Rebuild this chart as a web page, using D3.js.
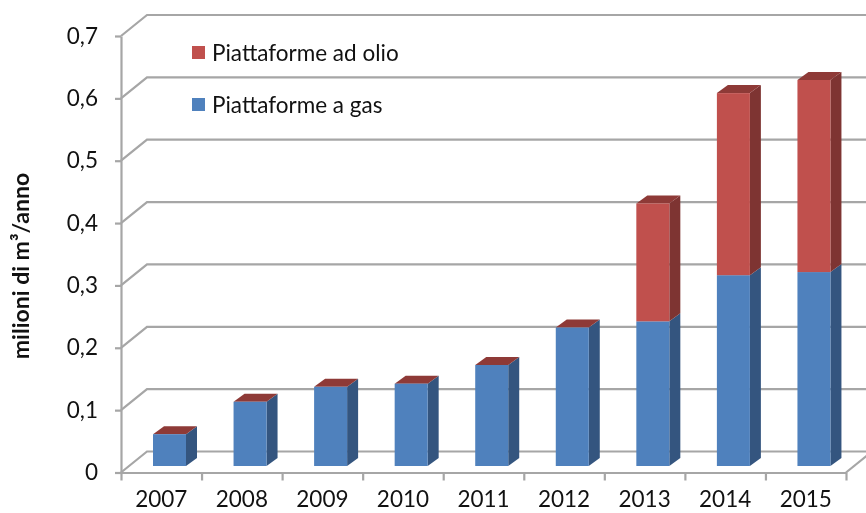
<!DOCTYPE html>
<html>
<head>
<meta charset="utf-8">
<script src="https://cdnjs.cloudflare.com/ajax/libs/d3/7.8.5/d3.min.js"></script>
<style>
  html, body { margin: 0; padding: 0; background: #fff; }
  svg { display: block; filter: blur(0.4px); }
  text { font-family: Lato, "Open Sans", sans-serif; fill: #111; }
</style>
</head>
<body>
<div id="chart-container"></div>
<script>
// Values
const years = ['2007', '2008', '2009', '2010', '2011', '2012', '2013', '2014', '2015'];
const gas = [0.051, 0.103, 0.127, 0.132, 0.162, 0.222, 0.232, 0.306, 0.311];
const olio = [0, 0, 0, 0, 0, 0, 0.189, 0.292, 0.308];
const yTicks = [0, 0.1, 0.2, 0.3, 0.4, 0.5, 0.6, 0.7];

const width = 866;
const height = 513;

const svg = d3.select('#chart-container').append('svg')
  .attr('width', width)
  .attr('height', height);

// Scales (front plane of the fake 3D box)
const xScale = d3.scaleBand().domain(years).range([121, 846]);
const yScale = d3.scaleLinear().domain([0, 0.7]).range([472.5, 36]);
const edgeScale = d3.scalePoint().domain(d3.range(years.length + 1)).range([121, 846]);

// 3D offsets
const wallDx = 26, wallDy = -21;
const barDx = 11, barDy = -8;
const barShift = 32, barWidth = 33, barLift = -6.5;

const grid = svg.append('g')
  .attr('fill', 'none')
  .attr('stroke', '#a6a6a6')
  .attr('stroke-width', 2.2);

// Back wall gridlines with their diagonals
yTicks.forEach(function(t) {
  const y = yScale(t);
  grid.append('path').attr('d', `M121,${y}L${121 + wallDx},${y + wallDy}H${width}`);
});
// Floor right edge
grid.append('path').attr('d', `M846,472.5L${846 + wallDx},${472.5 + wallDy}`);

// Bars
const bars = svg.selectAll('.bar')
  .data(years.map((d, i) => ({ year: d, gas: gas[i], olio: olio[i] })))
  .enter().append('g')
  .attr('class', 'bar');

const px = d => yScale(0) - yScale(d);
const base = yScale(0) + barLift;

function poly(sel, points, fill) {
  sel.append('polygon').attr('fill', fill).attr('points', points);
}

bars.each(function(d) {
  const g = d3.select(this);
  const x0 = xScale(d.year) + barShift;
  const x1 = x0 + barWidth;
  const yGas = base - px(d.gas);
  const yTop = base - px(d.gas + d.olio);

  // side faces
  poly(g, `${x1},${base} ${x1 + barDx},${base + barDy} ${x1 + barDx},${yGas + barDy} ${x1},${yGas}`, '#34557f');
  if (d.olio > 0) {
    poly(g, `${x1},${yGas} ${x1 + barDx},${yGas + barDy} ${x1 + barDx},${yTop + barDy} ${x1},${yTop}`, '#7e3432');
  }
  // top face
  poly(g, `${x0},${yTop} ${x0 + barDx},${yTop + barDy} ${x1 + barDx},${yTop + barDy} ${x1},${yTop}`, '#8e3a37');
  // front faces
  g.append('rect').attr('x', x0).attr('y', yGas).attr('width', barWidth).attr('height', base - yGas).attr('fill', '#4f81bd');
  if (d.olio > 0) {
    g.append('rect').attr('x', x0).attr('y', yTop).attr('width', barWidth).attr('height', yGas - yTop).attr('fill', '#c0504d');
  }
});

// Y axis
const yAxis = svg.append('g')
  .attr('transform', 'translate(121,0)')
  .call(d3.axisLeft(yScale)
    .tickValues(yTicks)
    .tickSize(6)
    .tickPadding(17)
    .tickSizeOuter(0)
    .tickFormat(d => d === 0 ? '0' : d3.format('.1f')(d).replace('.', ',')));

// X axis: tick marks on the band edges, labels in the band centres
const xTickAxis = svg.append('g')
  .attr('transform', 'translate(0,472.5)')
  .call(d3.axisBottom(edgeScale).tickSize(8).tickSizeOuter(0).tickFormat(''));

const xAxis = svg.append('g')
  .attr('transform', 'translate(0,472.5)')
  .call(d3.axisBottom(xScale).tickSize(0).tickPadding(19).tickSizeOuter(0));
xAxis.select('.domain').remove();

[yAxis, xTickAxis, xAxis].forEach(function(a) {
  a.selectAll('path, line').attr('stroke', '#a6a6a6').attr('stroke-width', 2.2);
  a.selectAll('text').attr('font-size', 22.5).attr('font-family', 'Lato, sans-serif').attr('fill', '#111');
});

// Y title
svg.append('text')
  .attr('transform', 'translate(29,266) rotate(-90)')
  .attr('text-anchor', 'middle')
  .attr('font-size', 23)
  .attr('font-weight', 700)
  .text('milioni di m³/anno');

// Legend
const legendNames = ['Piattaforme ad olio', 'Piattaforme a gas'];
const legendColors = ['#c0504d', '#4f81bd'];
const legendY = [46, 98];
legendNames.forEach(function(name, i) {
  svg.append('rect')
    .attr('x', 192).attr('y', legendY[i])
    .attr('width', 13).attr('height', 13)
    .attr('fill', legendColors[i]);
  svg.append('text')
    .attr('x', 212).attr('y', legendY[i] + 15)
    .attr('font-size', 22.5)
    .text(name);
});
</script>
</body>
</html>
